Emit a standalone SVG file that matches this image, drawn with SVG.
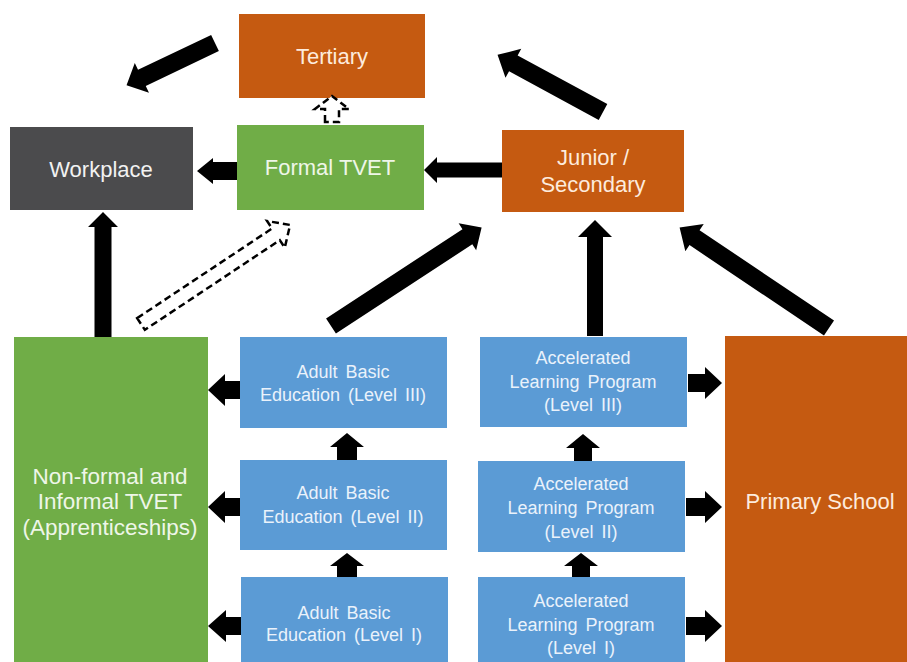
<svg xmlns="http://www.w3.org/2000/svg" width="907" height="662" viewBox="0 0 907 662">
  <style>
    .orange { fill: #C55A11; }
    .green { fill: #70AD47; }
    .blue { fill: #5B9BD5; }
    .grey { fill: #4B4B4D; }
    text { font-family: "Liberation Sans", Arial, sans-serif; text-anchor: middle; }
    .big { font-size: 22px; }
    .wide { font-size: 22.5px; }
    .small { font-size: 18px; word-spacing: 3px; }
    .t-orange { fill: #FDEBDD; }
    .t-green { fill: #EEF6E8; }
    .t-blue { fill: #EAF2FB; }
    .t-grey { fill: #F2F2F2; }
    .solid { fill: #000; }
    .dashed { fill: #fff; stroke: #000; stroke-width: 2.5; stroke-dasharray: 7 4; stroke-linejoin: miter; }
  </style>

  <rect width="907" height="662" fill="#fff"/>

  <!-- nodes -->
  <g id="tertiary">
    <rect class="orange" x="239" y="14" width="186" height="84"/>
    <text class="big t-orange" x="332" y="64">Tertiary</text>
  </g>
  <g id="workplace">
    <rect class="grey" x="10" y="127" width="183" height="83"/>
    <text class="big t-grey" x="101" y="177">Workplace</text>
  </g>
  <g id="formal-tvet">
    <rect class="green" x="237" y="125" width="187" height="85"/>
    <text class="big t-green" x="330" y="175">Formal TVET</text>
  </g>
  <g id="junior-secondary">
    <rect class="orange" x="502" y="130" width="182" height="82"/>
    <text class="big t-orange" x="593" y="165">Junior /</text>
    <text class="big t-orange" x="593" y="192">Secondary</text>
  </g>
  <g id="non-formal-tvet">
    <rect class="green" x="14" y="337" width="194" height="325"/>
    <text class="wide t-green" x="110" y="484">Non-formal and</text>
    <text class="wide t-green" x="110" y="509">Informal TVET</text>
    <text class="wide t-green" x="110" y="535">(Apprenticeships)</text>
  </g>
  <g id="abe-3">
    <rect class="blue" x="240" y="337" width="207" height="91"/>
    <text class="small t-blue" x="343" y="378">Adult Basic</text>
    <text class="small t-blue" x="343" y="401">Education (Level III)</text>
  </g>
  <g id="abe-2">
    <rect class="blue" x="240" y="460" width="207" height="90"/>
    <text class="small t-blue" x="343" y="499">Adult Basic</text>
    <text class="small t-blue" x="343" y="523">Education (Level II)</text>
  </g>
  <g id="abe-1">
    <rect class="blue" x="241" y="577" width="207" height="85"/>
    <text class="small t-blue" x="344" y="619">Adult Basic</text>
    <text class="small t-blue" x="344" y="641">Education (Level I)</text>
  </g>
  <g id="alp-3">
    <rect class="blue" x="480" y="337" width="207" height="90"/>
    <text class="small t-blue" x="583" y="364">Accelerated</text>
    <text class="small t-blue" x="583" y="388">Learning Program</text>
    <text class="small t-blue" x="583" y="411">(Level III)</text>
  </g>
  <g id="alp-2">
    <rect class="blue" x="478" y="461" width="207" height="91"/>
    <text class="small t-blue" x="581" y="490">Accelerated</text>
    <text class="small t-blue" x="581" y="514">Learning Program</text>
    <text class="small t-blue" x="581" y="538">(Level II)</text>
  </g>
  <g id="alp-1">
    <rect class="blue" x="478" y="577" width="207" height="85"/>
    <text class="small t-blue" x="581" y="607">Accelerated</text>
    <text class="small t-blue" x="581" y="631">Learning Program</text>
    <text class="small t-blue" x="581" y="654">(Level I)</text>
  </g>
  <g id="primary-school">
    <rect class="orange" x="725" y="336" width="182" height="326"/>
    <text class="big t-orange" x="820" y="509">Primary School</text>
  </g>

  <!-- connectors: block arrows drawn pointing right, then placed -->
  <g id="connectors">
    <!-- Formal TVET to Workplace -->
    <path class="solid" transform="translate(237,171) rotate(180)" d="M0,-9H24V-13L40,0L24,13V9H0Z"/>
    <!-- Junior / Secondary to Formal TVET -->
    <path class="solid" transform="translate(502,170) rotate(180)" d="M0,-7.5H65V-13L78,0L65,13V7.5H0Z"/>
    <!-- Non-formal TVET up to Workplace -->
    <path class="solid" transform="translate(103,337) rotate(-90)" d="M0,-8.5H110V-15L125,0L110,15V8.5H0Z"/>
    <!-- ALP III up to Junior / Secondary -->
    <path class="solid" transform="translate(595,336) rotate(-90)" d="M0,-8H99V-17L116,0L99,17V8H0Z"/>
    <!-- Tertiary out toward Workplace -->
    <path class="solid" transform="translate(215,43) rotate(154.5)" d="M0,-9H81V-16.5L98,0L81,16.5V9H0Z"/>
    <!-- Junior / Secondary to Tertiary -->
    <path class="solid" transform="translate(603,112) rotate(-151.5)" d="M0,-9H102V-16.5L120,0L102,16.5V9H0Z"/>
    <!-- ABE III to Junior / Secondary -->
    <path class="solid" transform="translate(331,326) rotate(-33.2)" d="M0,-9H163V-16L180,0L163,16V9H0Z"/>
    <!-- Primary School to Junior / Secondary -->
    <path class="solid" transform="translate(829,328) rotate(-146.1)" d="M0,-9H162V-16.5L180,0L162,16.5V9H0Z"/>

    <!-- ABE level steps -->
    <path class="solid" transform="translate(347,460) rotate(-90)" d="M0,-10H13V-17L27,0L13,17V10H0Z"/>
    <path class="solid" transform="translate(347,577) rotate(-90)" d="M0,-10H11V-17L24,0L11,17V10H0Z"/>
    <!-- ALP level steps -->
    <path class="solid" transform="translate(583,461) rotate(-90)" d="M0,-9H13V-17L27,0L13,17V9H0Z"/>
    <path class="solid" transform="translate(581,577) rotate(-90)" d="M0,-9H11V-17L24,0L11,17V9H0Z"/>

    <!-- ABE to Non-formal TVET -->
    <path class="solid" transform="translate(240,390) rotate(180)" d="M0,-9H15V-16L32,0L15,16V9H0Z"/>
    <path class="solid" transform="translate(240,507) rotate(180)" d="M0,-9H15V-16L32,0L15,16V9H0Z"/>
    <path class="solid" transform="translate(241,626) rotate(180)" d="M0,-9H15V-16L33,0L15,16V9H0Z"/>
    <!-- ALP to Primary School -->
    <path class="solid" transform="translate(688,383)" d="M0,-9H17V-16L34,0L17,16V9H0Z"/>
    <path class="solid" transform="translate(686,507)" d="M0,-9H19V-16L36,0L19,16V9H0Z"/>
    <path class="solid" transform="translate(686,626)" d="M0,-9H19V-16L36,0L19,16V9H0Z"/>

    <!-- dashed pathways -->
    <path class="dashed" transform="translate(141,324) rotate(-33.6)" d="M0,-7H162V-16L179,0L162,16V7H0Z"/>
    <path class="dashed" transform="translate(332,122) rotate(-90)" d="M0,-7H13V-17L26,0L13,17V7H0Z"/>
  </g>
</svg>
